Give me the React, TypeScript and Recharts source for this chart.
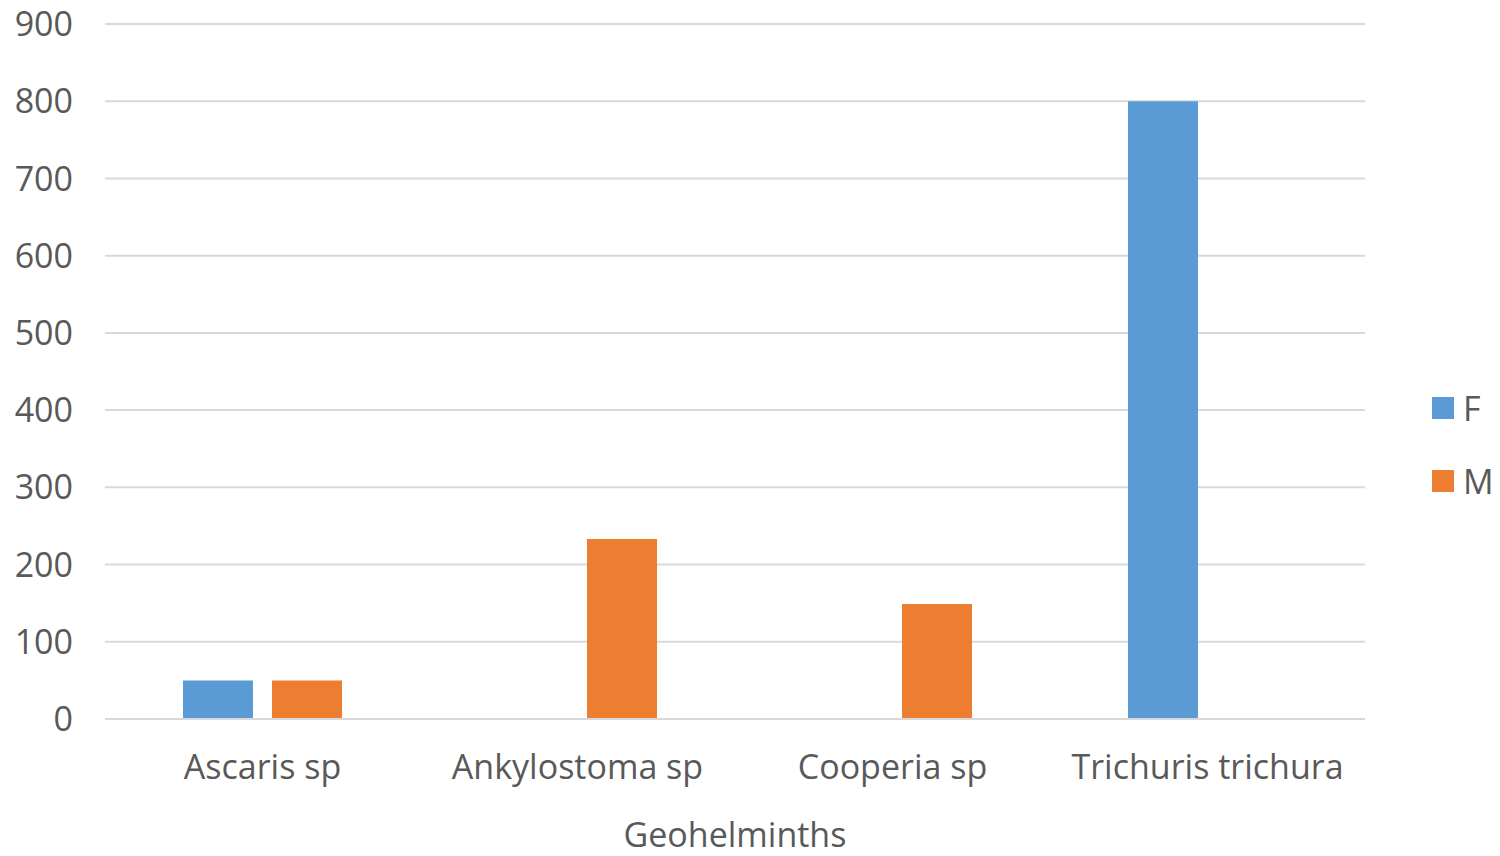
import { BarChart, Bar, XAxis, YAxis, CartesianGrid, Legend } from 'recharts'

const categories = ['Ascaris sp', 'Ankylostoma sp', 'Cooperia sp', 'Trichuris trichura']
const femaleValues = [50, 0, 0, 800]
const maleValues = [50, 233, 149, 0]
const yTicks = [0, 100, 200, 300, 400, 500, 600, 700, 800, 900]

const COLORS = { F: '#5b9bd5', M: '#ed7d31' }
const TEXT = '#595959'
const FONT = '"Open Sans", sans-serif'
const FS = 34

const data = categories.map((name, i) => ({ name, F: femaleValues[i], M: maleValues[i] }))

function LegendBox() {
  const items = [
    { key: 'F', color: COLORS.F },
    { key: 'M', color: COLORS.M },
  ]
  return (
    <div style={{ fontFamily: FONT }}>
      {items.map((it) => (
        <div key={it.key} style={{ display: 'flex', alignItems: 'center', height: 73 }}>
          <span style={{ width: 22, height: 22, background: it.color, display: 'inline-block', marginRight: 9 }} />
          <span style={{ fontSize: FS, color: TEXT }}>{it.key}</span>
        </div>
      ))}
    </div>
  )
}

export default function App() {
  return (
    <div style={{ position: 'absolute', left: 0, top: 0, width: 1500, height: 856, background: '#fff', overflow: 'hidden' }}>
      <BarChart
        width={1500}
        height={856}
        data={data}
        margin={{ top: 24, right: 65, bottom: 0, left: 0 }}
        barGap={19}
        barCategoryGap={78}
      >
        <CartesianGrid vertical={false} stroke="#d9d9d9" strokeWidth={2} />
        <XAxis
          dataKey="name"
          height={137}
          axisLine={{ stroke: '#d9d9d9', strokeWidth: 2 }}
          tickLine={false}
          tick={{ fill: TEXT, fontSize: FS, fontFamily: FONT }}
          tickMargin={30}
          label={{ value: 'Geohelminths', position: 'insideBottom', offset: 9, fill: TEXT, fontSize: FS, fontFamily: FONT }}
        />
        <YAxis
          width={105}
          domain={[0, 900]}
          ticks={yTicks}
          axisLine={false}
          tickLine={false}
          tickMargin={26}
          tick={{ fill: TEXT, fontSize: FS, fontFamily: FONT }}
        />
        <Legend
          layout="vertical"
          align="right"
          verticalAlign="middle"
          content={<LegendBox />}
          wrapperStyle={{ left: 1432, top: 371, width: 70 }}
        />
        <Bar dataKey="F" fill={COLORS.F} isAnimationActive={false} />
        <Bar dataKey="M" fill={COLORS.M} isAnimationActive={false} />
      </BarChart>
    </div>
  )
}
